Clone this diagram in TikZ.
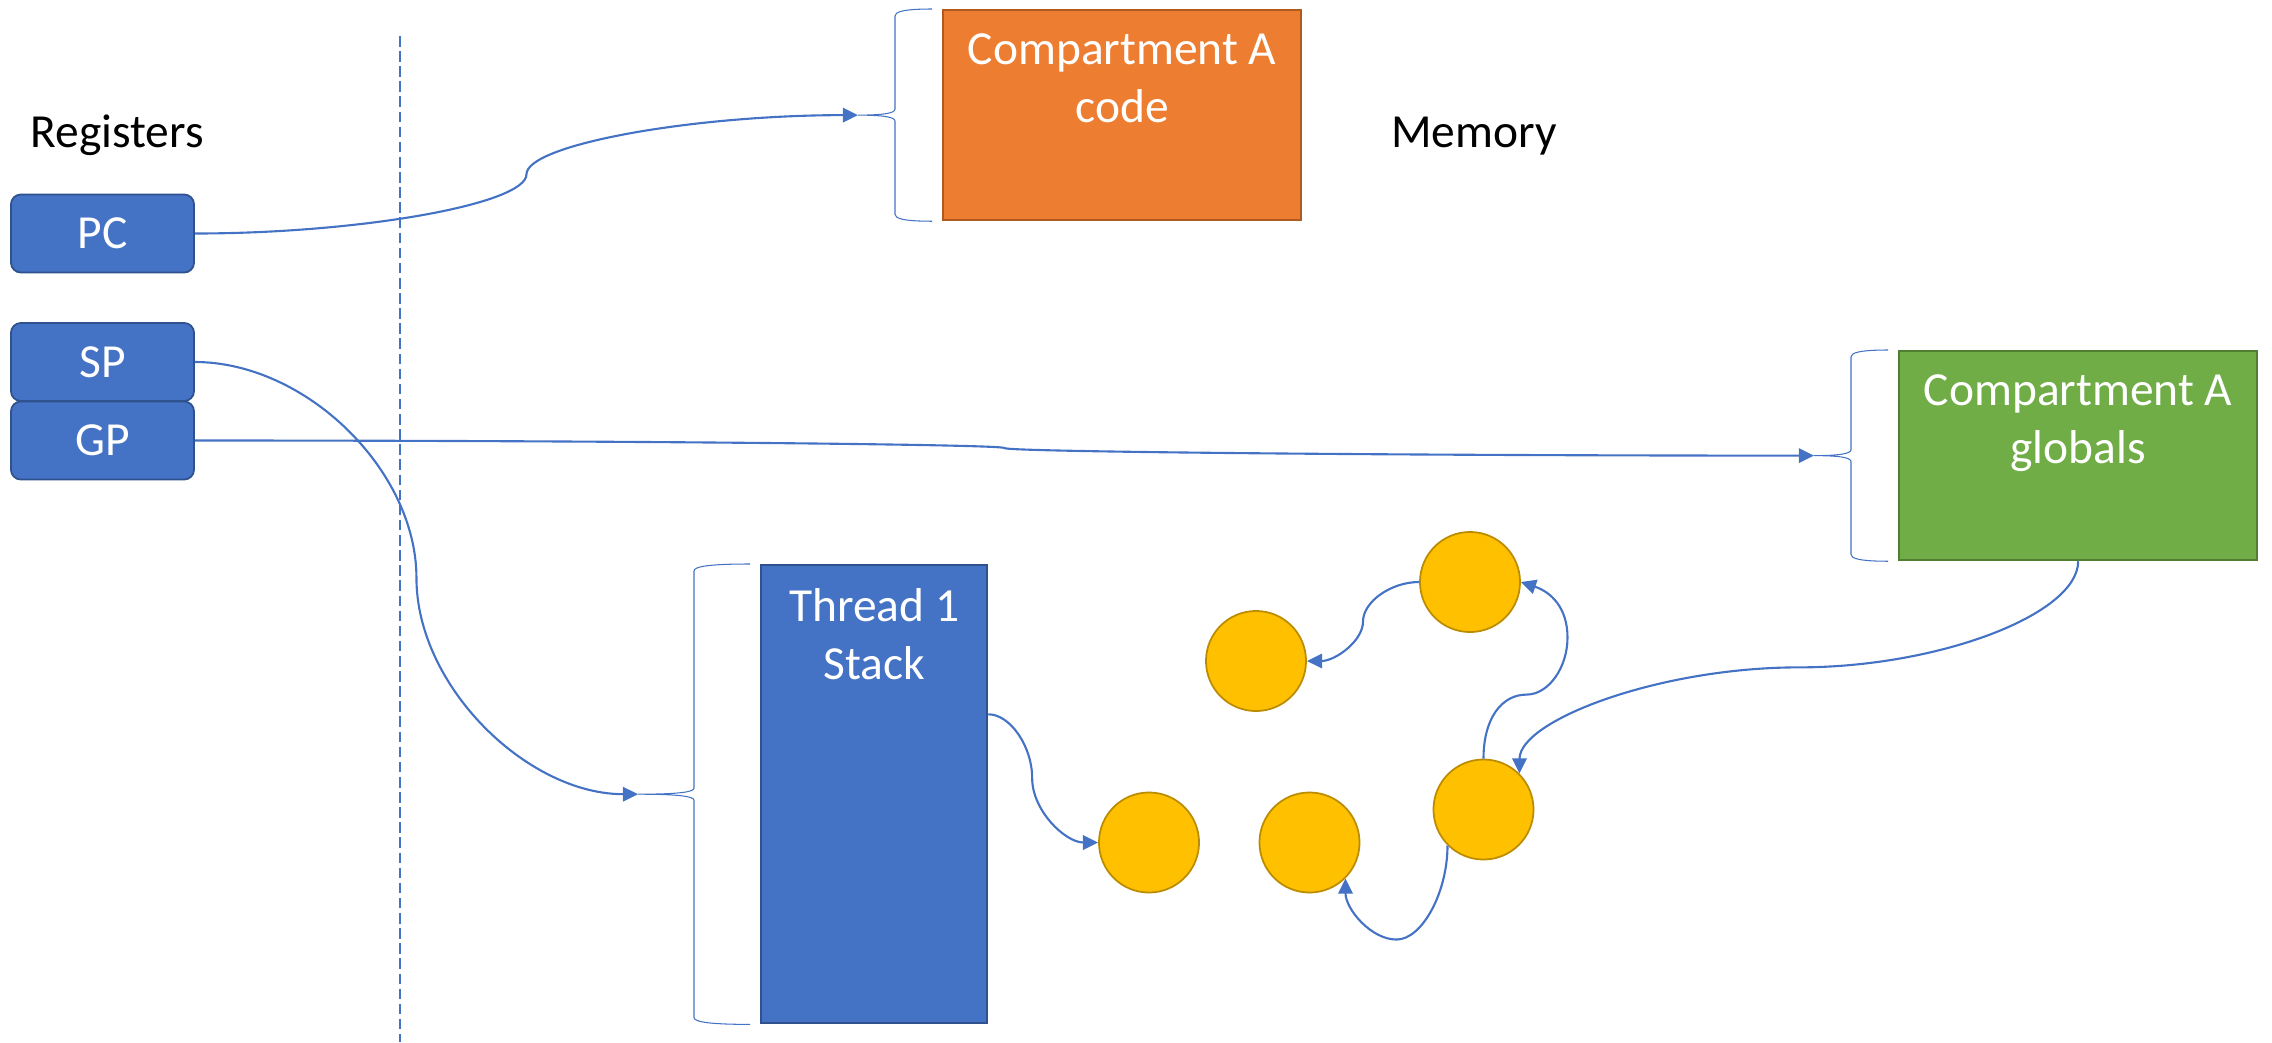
\documentclass[tikz,border=0pt]{standalone}
\usepackage{fontspec}
\setmainfont{Carlito}
\usepackage{tikz}
\usetikzlibrary{arrows.meta,calc}
\definecolor{regblue}{HTML}{4472C4}
\definecolor{regedge}{HTML}{2F528F}
\definecolor{codefill}{HTML}{ED7D31}
\definecolor{codeedge}{HTML}{AE5A21}
\definecolor{globfill}{HTML}{70AD47}
\definecolor{globedge}{HTML}{507E32}
\definecolor{heapfill}{HTML}{FFC000}
\definecolor{heapedge}{HTML}{BC8C00}

\tikzset{
  every node/.style={font=\fontsize{13.5}{16.4}\selectfont},
  reg/.style={draw=regedge, line width=0.5pt, fill=regblue, rounded corners=2.8pt,
    minimum width=1.83cm, minimum height=0.78cm, inner sep=0, text=white},
  region/.style={line width=0.6pt, anchor=north west, inner sep=0},
  boxtext/.style={anchor=north, inner sep=0, align=center, text=white},
  heap/.style={circle, draw=heapedge, line width=0.5pt, fill=heapfill, minimum size=1cm, inner sep=0},
  link/.style={regblue, line width=0.6pt, -{Triangle[length=4.3pt,width=4.1pt]}},
  brace/.style={regblue, line width=0.3pt},
  % curved connector: leaves and arrives horizontally, turns vertical at #1 of the way
  office/.style={to path={let \p1=(\tikztostart), \p2=(\tikztotarget),
      \p3=($(\tikztostart)!#1!(\tikztotarget)$) in
      .. controls ({(\x1+\x3)/2},\y1) and (\x3,{(3*\y1+\y2)/4}) .. (\x3,{(\y1+\y2)/2})
      .. controls (\x3,{(\y1+3*\y2)/4}) and ({(\x3+\x2)/2},\y2) .. (\tikztotarget) \tikztonodes}},
  office/.default=0.5,
  % same, but leaves and arrives vertically
  officev/.style={to path={let \p1=(\tikztostart), \p2=(\tikztotarget),
      \p3=($(\tikztostart)!#1!(\tikztotarget)$) in
      .. controls (\x1,{(\y1+\y3)/2}) and ({(3*\x1+\x2)/4},\y3) .. ({(\x1+\x2)/2},\y3)
      .. controls ({(\x1+3*\x2)/4},\y3) and (\x2,{(\y3+\y2)/2}) .. (\tikztotarget) \tikztonodes}},
  officev/.default=0.5
}

% left brace in front of a memory region: #1 box, #2 depth, #3 name of the tip
\newcommand{\membrace}[3]{%
  \coordinate (#3-top) at ($(#1.north west)+(-10,0)$);
  \coordinate (#3-bot) at ($(#1.south west)+(-10,0)$);
  \coordinate (#3) at ($(#1.west)+(-10-#2,0)$);
  \draw[brace] (#3-top) .. controls +(-0.4*#2,0) and +(0,-4) .. ($(#3-top)+(-0.5*#2,7)$)
    -- ($(#3)+(0.5*#2,-6)$) .. controls +(0,4) and +(0.35*#2,0) .. (#3)
    .. controls +(0.35*#2,0) and +(0,-4) .. ($(#3)+(0.5*#2,6)$)
    -- ($(#3-bot)+(-0.5*#2,-7)$) .. controls +(0,4) and +(-0.4*#2,0) .. (#3-bot);
}

\begin{document}
\begin{tikzpicture}[x=0.01cm, y=-0.01cm]
\useasboundingbox (0,0) rectangle (2272,1042);

\node[anchor=base] (regtitle) at (117,147) {Registers};
\node[anchor=base] (memtitle) at (1474,147) {Memory};

\node[reg] (pc) at (102.5,233.5) {PC};
\node[reg] (sp) at (102.5,362) {SP};
\node[reg] (gp) at (102.5,440.5) {GP};

\draw[regblue, line width=0.35pt, dash pattern=on 3pt off 1.3pt] (400,36) -- (400,1042);

\node[region, draw=codeedge, fill=codefill, minimum width=3.58cm, minimum height=2.1cm] (code) at (942,9) {};
\node[boxtext] at ($(code.north)+(0,24)$) {Compartment A\\code};

\node[region, draw=globedge, fill=globfill, minimum width=3.58cm, minimum height=2.09cm] (globals) at (1898,350) {};
\node[boxtext] at ($(globals.north)+(0,24)$) {Compartment A\\globals};

\node[region, draw=regedge, fill=regblue, minimum width=2.26cm, minimum height=4.58cm] (stack) at (760,564) {};
\node[boxtext] at ($(stack.north)+(0,24)$) {Thread 1\\Stack};

\membrace{code}{74}{codetip}
\membrace{globals}{74}{globtip}
\membrace{stack}{112}{stacktip}

\node[heap] (heap1) at (1256,661) {};
\node[heap] (heap2) at (1470,582) {};
\node[heap] (heap3) at (1483.5,809.5) {};
\node[heap] (heap4) at (1309.5,842.5) {};
\node[heap] (heap5) at (1149,842.5) {};

\draw[link] (pc.east) to[office] (codetip);
\draw[link] (sp.east) to[office] (stacktip);
\draw[link] (gp.east) to[office] (globtip);
\draw[link] (globals.south) to[officev] (heap3.north east);
\draw[link] (stack.35) to[office=0.4] (heap5.west);
\draw[link] (heap2.west) to[office] (heap1.east);
\draw[link] (heap3.south west) to[officev=2.85] (heap4.south east);
\draw[link] (heap3.north) .. controls +(0,-40) and +(-25,0) .. ++(43,-64)
  .. controls +(22,0) and +(0,30) .. ++(41,-57)
  .. controls +(0,-30) and +(30,10) .. (heap2.east);
\end{tikzpicture}
\end{document}
